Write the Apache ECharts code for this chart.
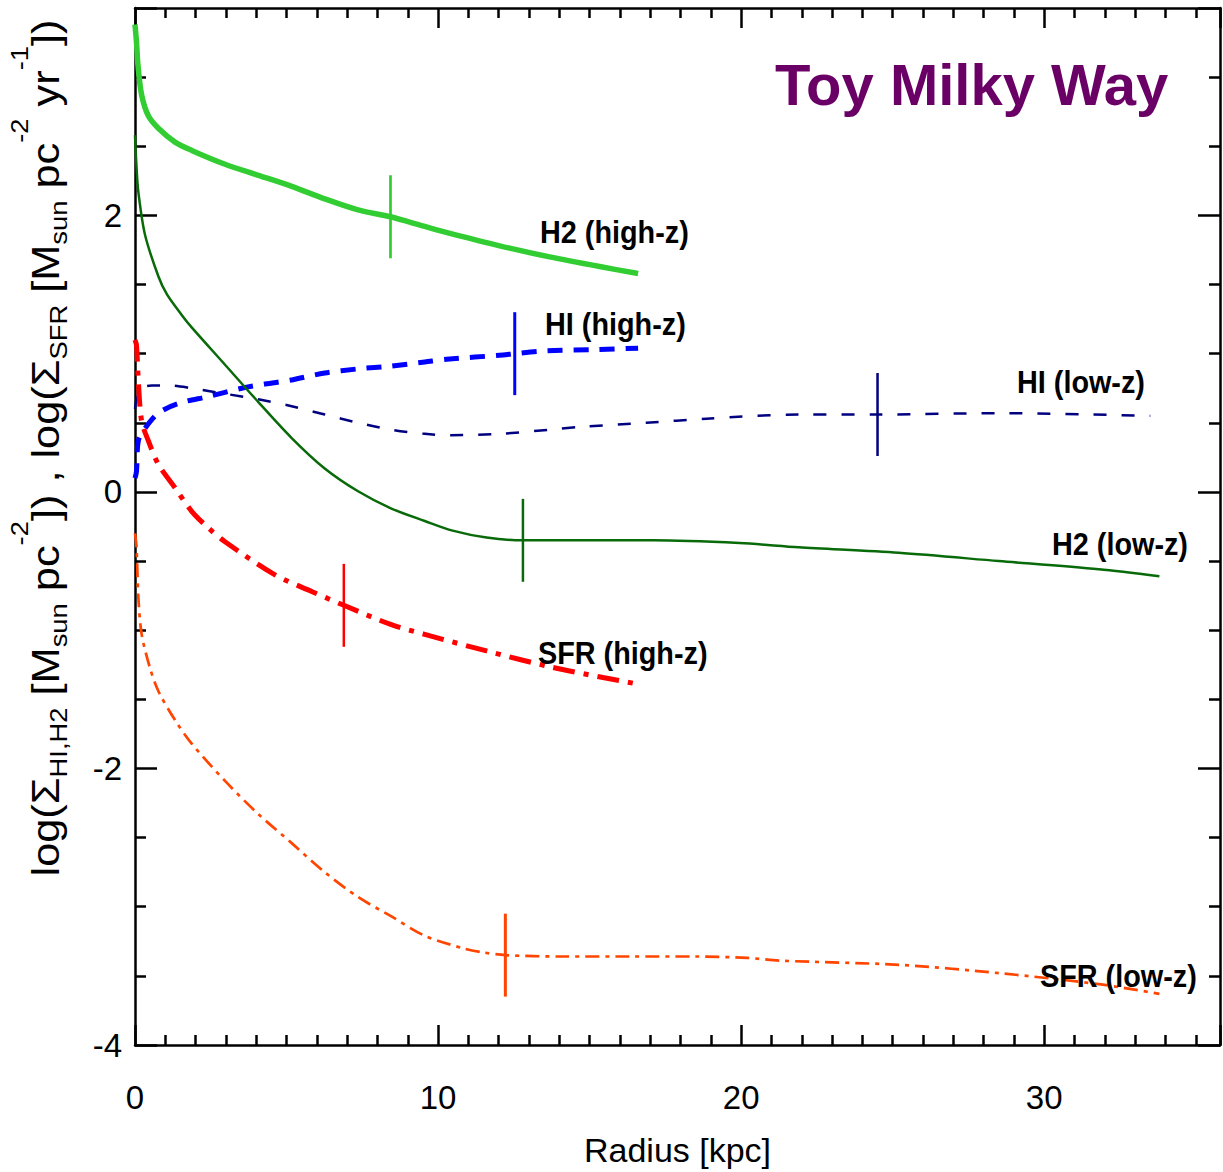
<!DOCTYPE html>
<html>
<head>
<meta charset="utf-8">
<script src="https://cdn.jsdelivr.net/npm/echarts@6/dist/echarts.min.js"></script>
<style>
html,body{margin:0;padding:0;background:#fff;}
#c{width:1223px;height:1172px;}
</style>
</head>
<body>
<div id="c"></div>
<script>
// ---------------- data ----------------
const h2HighR = [0, 0.05, 0.1, 0.22, 0.44, 0.77, 1.32, 1.87, 2.97, 4.07, 5.17, 6.26, 7.36, 8.43, 9.56, 10.39, 12.03, 13.68, 15.33, 16.6];
const h2HighV = [3.38, 3.25, 3.08, 2.87, 2.72, 2.63, 2.53, 2.47, 2.37, 2.29, 2.21, 2.12, 2.04, 1.99, 1.92, 1.87, 1.78, 1.70, 1.63, 1.58];

const h2LowR = [0, 0.05, 0.11, 0.33, 0.77, 1.05, 1.54, 1.87, 2.97, 4.07, 5.17, 6.26, 7.36, 8.46, 9.56, 10.48, 11.6, 12.8, 14.9, 17.1, 19.95, 21.9, 25.2, 28.5, 31.8, 33.8];
const h2LowV = [2.58, 2.35, 2.17, 1.86, 1.56, 1.43, 1.28, 1.19, 0.92, 0.65, 0.39, 0.17, 0.005, -0.12, -0.21, -0.28, -0.33, -0.35, -0.35, -0.35, -0.37, -0.40, -0.44, -0.50, -0.56, -0.61];

const hiHighR = [0, 0.05, 0.11, 0.33, 0.77, 1.43, 2.42, 3.52, 4.29, 5.17, 6.26, 7.36, 8.43, 9.56, 10.28, 12.14, 12.53, 13.58, 15.22, 16.6];
const hiHighV = [0.10, 0.15, 0.37, 0.46, 0.57, 0.64, 0.69, 0.75, 0.78, 0.81, 0.86, 0.89, 0.91, 0.94, 0.96, 0.99, 1.00, 1.02, 1.03, 1.04];

const hiLowR = [0, 0.06, 0.22, 0.55, 1.1, 1.87, 2.97, 4.07, 5.17, 6.26, 7.36, 8.46, 9.56, 10.39, 12.03, 13.68, 14.68, 16.87, 18.85, 21.9, 24.5, 28.5, 33.5];
const hiLowV = [0.60, 0.68, 0.75, 0.77, 0.77, 0.75, 0.71, 0.67, 0.62, 0.56, 0.50, 0.45, 0.42, 0.41, 0.42, 0.45, 0.47, 0.50, 0.53, 0.56, 0.56, 0.57, 0.55];

const sfrHighR = [0, 0.05, 0.11, 0.22, 0.44, 0.77, 1.32, 1.87, 2.42, 2.97, 4.62, 5.83, 6.89, 8.46, 9.56, 11.6, 13.8, 16.6];
const sfrHighV = [1.10, 1.06, 0.80, 0.51, 0.37, 0.20, 0.03, -0.14, -0.26, -0.36, -0.60, -0.72, -0.82, -0.96, -1.03, -1.15, -1.27, -1.39];

const sfrLowR = [0, 0.05, 0.11, 0.22, 0.49, 0.77, 1.32, 1.87, 2.97, 4.07, 5.17, 6.26, 7.36, 8.46, 9.56, 10.82, 11.48, 12.22, 14.1, 16.3, 18.5, 20.2, 21.3, 25.2, 28.5, 31.8, 33.8];
const sfrLowV = [-0.30, -0.40, -0.76, -1.03, -1.27, -1.44, -1.65, -1.82, -2.09, -2.33, -2.54, -2.75, -2.93, -3.07, -3.21, -3.30, -3.33, -3.35, -3.36, -3.36, -3.36, -3.37, -3.39, -3.42, -3.48, -3.56, -3.63];

// characteristic-radius markers (radius, curve value), drawn as vertical bars of +/- markerHalf
const markerNames = ['H2 (high-z)', 'HI (high-z)', 'HI (low-z)', 'H2 (low-z)', 'SFR (high-z)', 'SFR (low-z)'];
const markerR = [8.43, 12.53, 24.5, 12.8, 6.89, 12.22];
const markerV = [1.99, 1.00, 0.56, -0.35, -0.82, -3.35];
const markerHalf = 0.3;

const xTicks = [0, 10, 20, 30];
const yTicks = [-4, -2, 0, 2];

// ---------------- chart ----------------
const zip = (a, b) => a.map((v, i) => [v, b[i]]);
const colors = ['#32CD32', '#0000FF', '#000080', '#086A08', '#FF0000', '#FF4500'];

function curve(name, r, v, color, width, type) {
  return {
    name: name, type: 'line', data: zip(r, v), showSymbol: false, symbol: 'none',
    smooth: 0.3, silent: true,
    lineStyle: { color: color, width: width, type: type, cap: 'butt', join: 'round' }
  };
}
function marker(i, width) {
  return {
    name: markerNames[i] + ' marker', type: 'line', showSymbol: false, symbol: 'none', silent: true,
    data: [[markerR[i], markerV[i] - markerHalf], [markerR[i], markerV[i] + markerHalf]],
    lineStyle: { color: colors[i], width: width, type: 'solid', cap: 'butt' }, z: 3
  };
}

const FONT = "'Liberation Sans', Helvetica, Arial, sans-serif";
const black = '#000';

function xAx(pos, showLabel) {
  return {
    type: 'value', position: pos, min: 0, max: 35.8, interval: 10,
    axisLine: { show: true, onZero: false, lineStyle: { color: black, width: 2.5 } },
    axisTick: { show: true, inside: true, length: 20, lineStyle: { color: black, width: 2.5 } },
    minorTick: { show: true, splitNumber: 10, length: 10, lineStyle: { color: black, width: 2.5 } },
    splitLine: { show: false },
    axisLabel: {
      show: showLabel, margin: 36, color: black, fontFamily: FONT, fontSize: 33,
      formatter: v => (xTicks.indexOf(v) >= 0 ? String(v) : '')
    },
    name: showLabel ? 'Radius [kpc]' : '', nameLocation: 'middle', nameGap: 88,
    nameTextStyle: { color: black, fontFamily: FONT, fontSize: 34 }
  };
}
function yAx(pos, showLabel) {
  return {
    type: 'value', position: pos, min: -4, max: 3.5, interval: 2,
    axisLine: { show: true, onZero: false, lineStyle: { color: black, width: 2.5 } },
    axisTick: { show: true, inside: true, length: 22, lineStyle: { color: black, width: 2.5 } },
    minorTick: { show: true, splitNumber: 4, length: 11, lineStyle: { color: black, width: 2.5 } },
    splitLine: { show: false },
    axisLabel: {
      show: showLabel, margin: 13, color: black, fontFamily: FONT, fontSize: 33,
      formatter: v => (yTicks.indexOf(v) >= 0 ? String(v) : '')
    }
  };
}

const yTitle = '{m|log(Σ}{sb|HI,H2}{m| [M}{sb|sun}{m| pc}{sp|-2}{m|]) , log(Σ}{sb|SFR}{m| [M}{sb|sun}{m| pc}{sp|-2}{m| yr}{sp|-1}{m|])}';

function lbl(text, x, y) {
  return {
    type: 'text', x: x, y: y, scaleX: 0.9, silent: true, z: 10,
    style: { text: text, x: 0, y: 0, align: 'left', verticalAlign: 'middle',
      fill: black, font: "bold 32px " + FONT }
  };
}

const chart = echarts.init(document.getElementById('c'), null, { renderer: 'svg' });
chart.setOption({
  animation: false,
  backgroundColor: '#fff',
  grid: { left: 135, right: 2, top: 8, bottom: 124, containLabel: false },
  xAxis: [xAx('bottom', true), xAx('top', false)],
  yAxis: [yAx('left', true), yAx('right', false)],
  series: [
    curve('H2 (high-z)', h2HighR, h2HighV, colors[0], 5.5, 'solid'),
    curve('HI (high-z)', hiHighR, hiHighV, colors[1], 5, [15, 11]),
    curve('HI (low-z)', hiLowR, hiLowV, colors[2], 2.5, [13, 15]),
    curve('H2 (low-z)', h2LowR, h2LowV, colors[3], 2.5, 'solid'),
    curve('SFR (high-z)', sfrHighR, sfrHighV, colors[4], 5, [22, 9, 5, 9]),
    curve('SFR (low-z)', sfrLowR, sfrLowV, colors[5], 2.7, [14, 6, 4, 6]),
    marker(0, 2.7), marker(1, 3), marker(2, 2.5), marker(3, 2.5), marker(4, 2.5), marker(5, 3)
  ],
  graphic: [
    {
      type: 'text', x: 775, y: 84, silent: true, z: 10,
      style: { text: 'Toy Milky Way', x: 0, y: 0, align: 'left', verticalAlign: 'middle',
        fill: '#6A0066', font: "bold 58px " + FONT }
    },
    lbl('H2 (high-z)', 540, 231),
    lbl('HI (high-z)', 545, 323),
    lbl('HI (low-z)', 1017, 381),
    lbl('H2 (low-z)', 1052, 543),
    lbl('SFR (high-z)', 538, 652),
    lbl('SFR (low-z)', 1040, 975),
    {
      type: 'text', x: 46, y: 448, rotation: Math.PI / 2, scaleX: 1.14, silent: true, z: 10,
      style: {
        text: yTitle, x: 0, y: 0, align: 'center', verticalAlign: 'middle',
        rich: {
          m: { fontSize: 38, lineHeight: 76, fontFamily: FONT, fill: black },
          sb: { fontSize: 24, fontFamily: FONT, verticalAlign: 'bottom', padding: [0, 0, 13, 0], fill: black },
          sp: { fontSize: 24, fontFamily: FONT, verticalAlign: 'top', fill: black }
        }
      }
    }
  ]
});
</script>
</body>
</html>
